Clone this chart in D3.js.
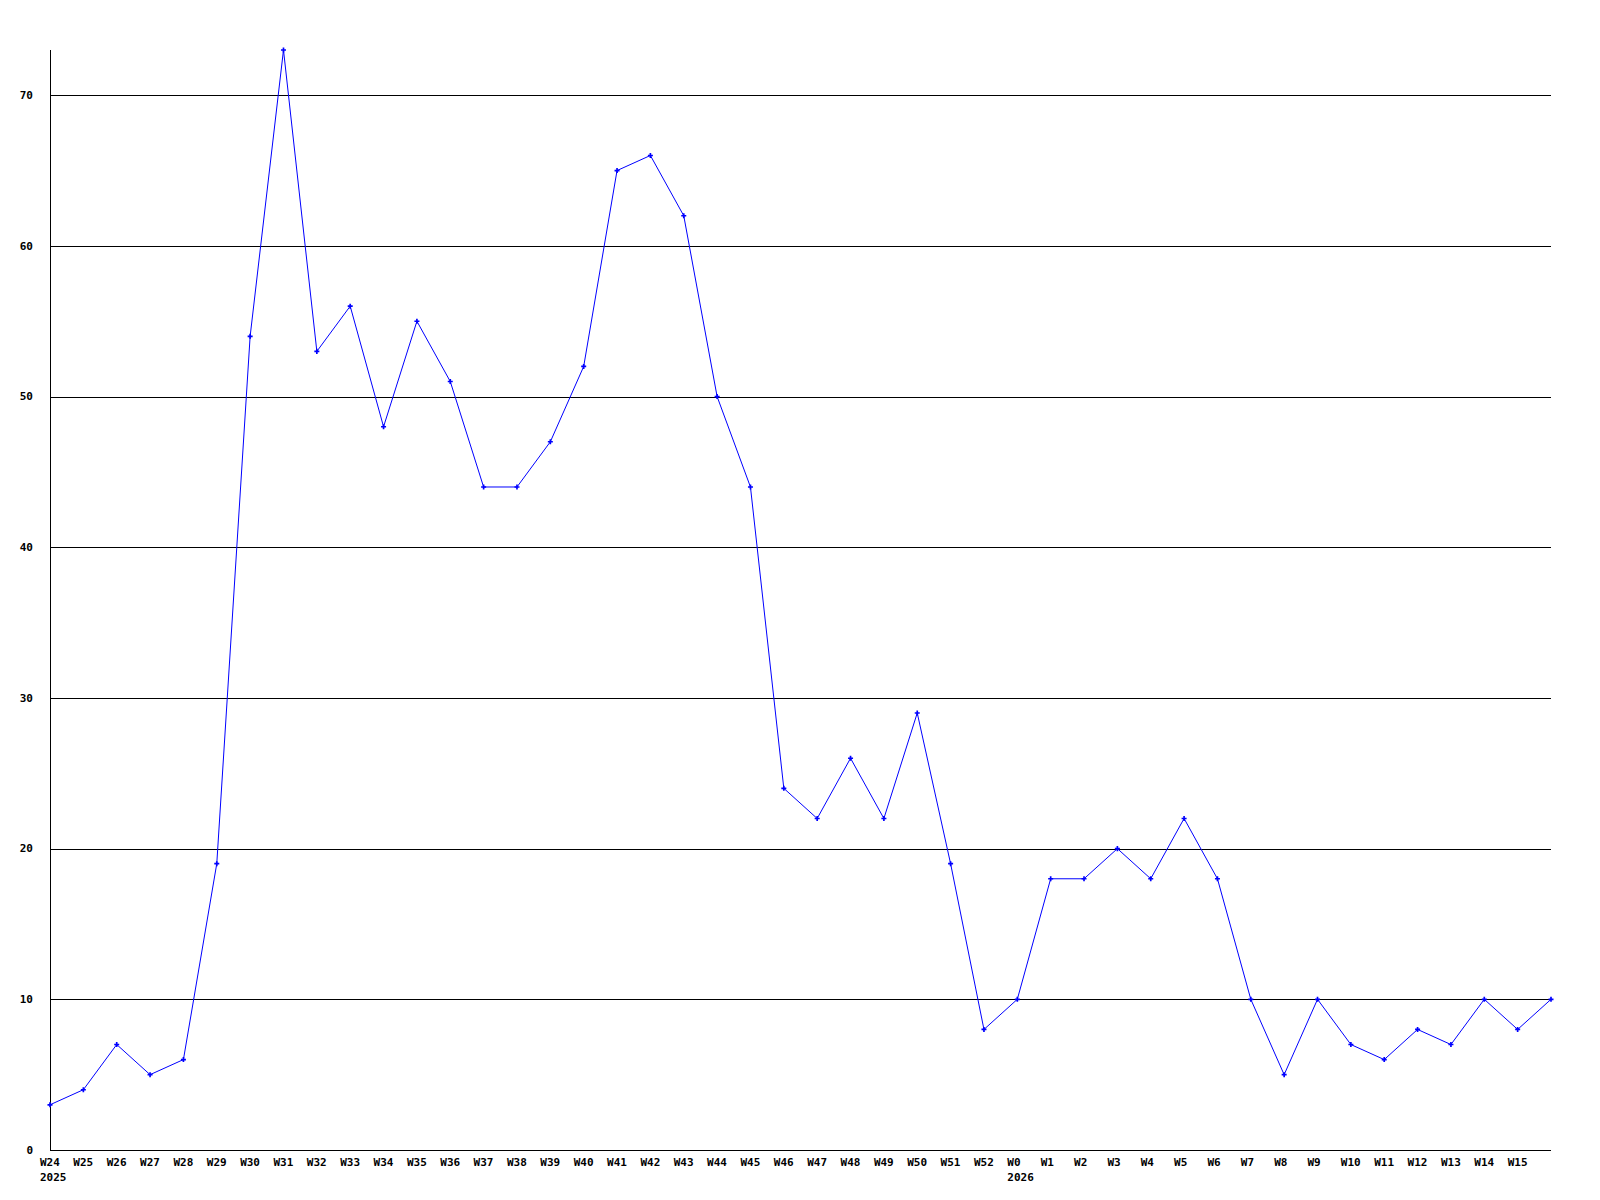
<!DOCTYPE html>
<html>
<head>
<meta charset="utf-8">
<script src="https://cdn.jsdelivr.net/npm/d3@7"></script>
<style>
  body { margin: 0; background: #fff; }
  text { font-family: "DejaVu Sans Mono", monospace; font-weight: bold; font-size: 11px; fill: #000; }
</style>
</head>
<body>
<svg width="1600" height="1200"></svg>
<script>
  // weekly counts, W24 2025 .. W16 2026
  let weeks = ['W24', 'W25', 'W26', 'W27', 'W28', 'W29', 'W30', 'W31', 'W32', 'W33',
    'W34', 'W35', 'W36', 'W37', 'W38', 'W39', 'W40', 'W41', 'W42', 'W43', 'W44',
    'W45', 'W46', 'W47', 'W48', 'W49', 'W50', 'W51', 'W52', 'W0', 'W1', 'W2', 'W3',
    'W4', 'W5', 'W6', 'W7', 'W8', 'W9', 'W10', 'W11', 'W12', 'W13', 'W14', 'W15', 'W16'];
  let counts = [3, 4, 7, 5, 6, 19, 54, 73, 53, 56, 48, 55, 51, 44, 44, 47, 52, 65, 66, 62,
    50, 44, 24, 22, 26, 22, 29, 19, 8, 10, 18, 18, 20, 18, 22, 18, 10, 5, 10, 7, 6, 8, 7,
    10, 8, 10];
  let yearLabels = [{week: 'W24', text: '2025'}, {week: 'W0', text: '2026'}];
  let yTicks = [0, 10, 20, 30, 40, 50, 60, 70];

(function() {
  let labelledWeeks = weeks.slice(0, weeks.length - 1);

  let svg = d3.select('svg');
  let plotLeft = 50, plotRight = 1551, plotTop = 50, plotBottom = 1150;

  let x = d3.scalePoint().domain(weeks).range([plotLeft, plotRight]);
  let y = d3.scaleLinear().domain([0, d3.max(counts)]).range([plotBottom, plotTop]);

  // grid lines
  svg.append('g')
    .selectAll('line')
    .data(yTicks.filter(function(d) { return d > 0; }))
    .enter().append('line')
    .attr('x1', plotLeft)
    .attr('x2', plotRight)
    .attr('y1', function(d) { return Math.round(y(d)) + 0.5; })
    .attr('y2', function(d) { return Math.round(y(d)) + 0.5; })
    .attr('stroke', '#000')
    .attr('shape-rendering', 'crispEdges');

  // axes lines
  svg.append('line')
    .attr('x1', plotLeft + 0.5).attr('x2', plotLeft + 0.5)
    .attr('y1', plotTop).attr('y2', plotBottom)
    .attr('stroke', '#000').attr('shape-rendering', 'crispEdges');
  svg.append('line')
    .attr('x1', plotLeft).attr('x2', plotRight)
    .attr('y1', plotBottom + 0.5).attr('y2', plotBottom + 0.5)
    .attr('stroke', '#000').attr('shape-rendering', 'crispEdges');

  // y labels
  svg.append('g')
    .selectAll('text')
    .data(yTicks)
    .enter().append('text')
    .attr('x', 33)
    .attr('y', function(d) { return y(d); })
    .attr('dy', '0.35em')
    .attr('text-anchor', 'end')
    .text(function(d) { return d; });

  // x labels (left aligned a little before each point)
  svg.append('g')
    .selectAll('text')
    .data(labelledWeeks)
    .enter().append('text')
    .attr('x', function(d) { return x(d) - 10; })
    .attr('y', 1162)
    .attr('dy', '0.35em')
    .text(function(d) { return d; });

  svg.append('g')
    .selectAll('text')
    .data(yearLabels)
    .enter().append('text')
    .attr('x', function(d) { return x(d.week) - 10; })
    .attr('y', 1177)
    .attr('dy', '0.35em')
    .text(function(d) { return d.text; });

  // series line
  let line = d3.line()
    .x(function(d, i) { return x(weeks[i]); })
    .y(function(d) { return y(d); });

  svg.append('path')
    .datum(counts)
    .attr('d', line)
    .attr('fill', 'none')
    .attr('stroke', '#0000ff')
    .attr('stroke-width', 1);

  svg.append('g')
    .selectAll('path')
    .data(counts)
    .enter().append('path')
    .attr('d', d3.symbol().type(d3.symbolCross).size(14))
    .attr('transform', function(d, i) {
      return 'translate(' + x(weeks[i]) + ',' + y(d) + ')';
    })
    .attr('fill', '#0000ff');
})();
</script>
</body>
</html>
